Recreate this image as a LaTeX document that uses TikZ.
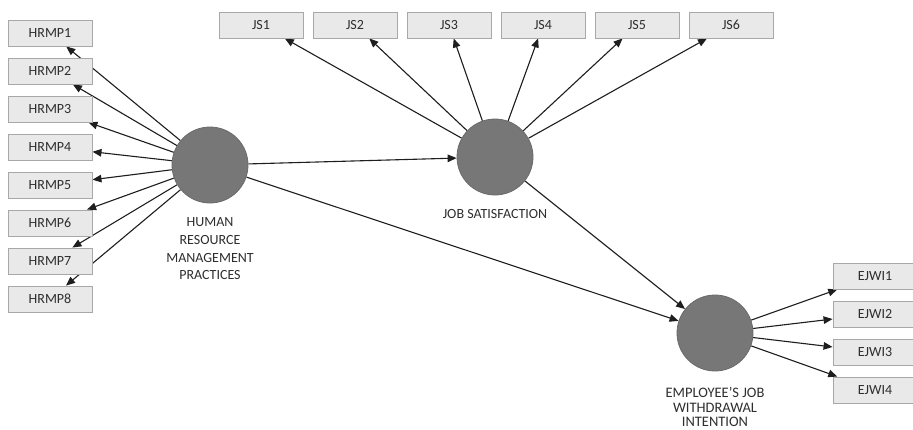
\documentclass[tikz,border=0pt]{standalone}
\usepackage{fontspec}
\setmainfont{Carlito}
\usetikzlibrary{arrows.meta,backgrounds}
\definecolor{boxfill}{HTML}{E9E9E9}
\definecolor{boxline}{HTML}{A8A8A8}
\definecolor{lvfill}{HTML}{777777}
\definecolor{lvline}{HTML}{6A6A6A}
\definecolor{txt}{HTML}{2E2E2E}
\definecolor{arrc}{HTML}{1E1E1E}
\tikzset{
  indbox/.style={rectangle, minimum width=84pt, minimum height=26pt, inner sep=0pt,
    fill=boxfill, draw=boxline, line width=0.9pt, text=txt, font=\fontsize{14}{16}\selectfont},
  latent/.style={circle, minimum size=76pt, inner sep=0pt, fill=lvfill, draw=lvline, line width=0.8pt},
  lvlabel/.style={align=center, text=txt, inner sep=0pt},
  arr/.style={draw=arrc, line width=1.1pt, -{Triangle[length=9pt,width=7.5pt]}}
}
\begin{document}
\begin{tikzpicture}[x=1pt,y=-1pt]
\useasboundingbox (0,0) rectangle (913,429);
% latent variables
\node[latent] (hr) at (210,165) {};
\node[latent] (js) at (495,157) {};
\node[latent] (ej) at (715,333) {};
\node[lvlabel, font=\fontsize{14}{17.7}\selectfont] (hrl) at (210,249) {HUMAN\\RESOURCE\\MANAGEMENT\\PRACTICES};
\node[lvlabel, font=\fontsize{14}{16}\selectfont] (jsl) at (495,214) {JOB SATISFACTION};
\node[lvlabel, font=\fontsize{14.5}{14.5}\selectfont] (ejl) at (715,407) {EMPLOYEE'S JOB\\WITHDRAWAL\\INTENTION};
% indicators
\foreach \i in {1,...,8} {
  \node[indbox] (h\i) at (50,{33+38*(\i-1)}) {HRMP\i};
}
\foreach \i in {1,...,6} {
  \node[indbox] (j\i) at ({261+94*(\i-1)},25) {JS\i};
}
\foreach \i in {1,...,4} {
  \node[indbox] (e\i) at (875,{276+38*(\i-1)}) {EJWI\i};
}
\begin{pgfonlayer}{background}
\fill[white] (0,0) rectangle (913,429);
\foreach \i in {1,...,8} { \draw[arr] (hr) -- (h\i); }
\foreach \i in {1,...,6} { \draw[arr] (js) -- (j\i); }
\foreach \i in {1,...,4} { \draw[arr] (ej) -- (e\i); }
\draw[arr] (hr) -- (js);
\draw[arr] (js) -- (ej);
\draw[arr] (hr) -- (ej);
\end{pgfonlayer}
\end{tikzpicture}
\end{document}
